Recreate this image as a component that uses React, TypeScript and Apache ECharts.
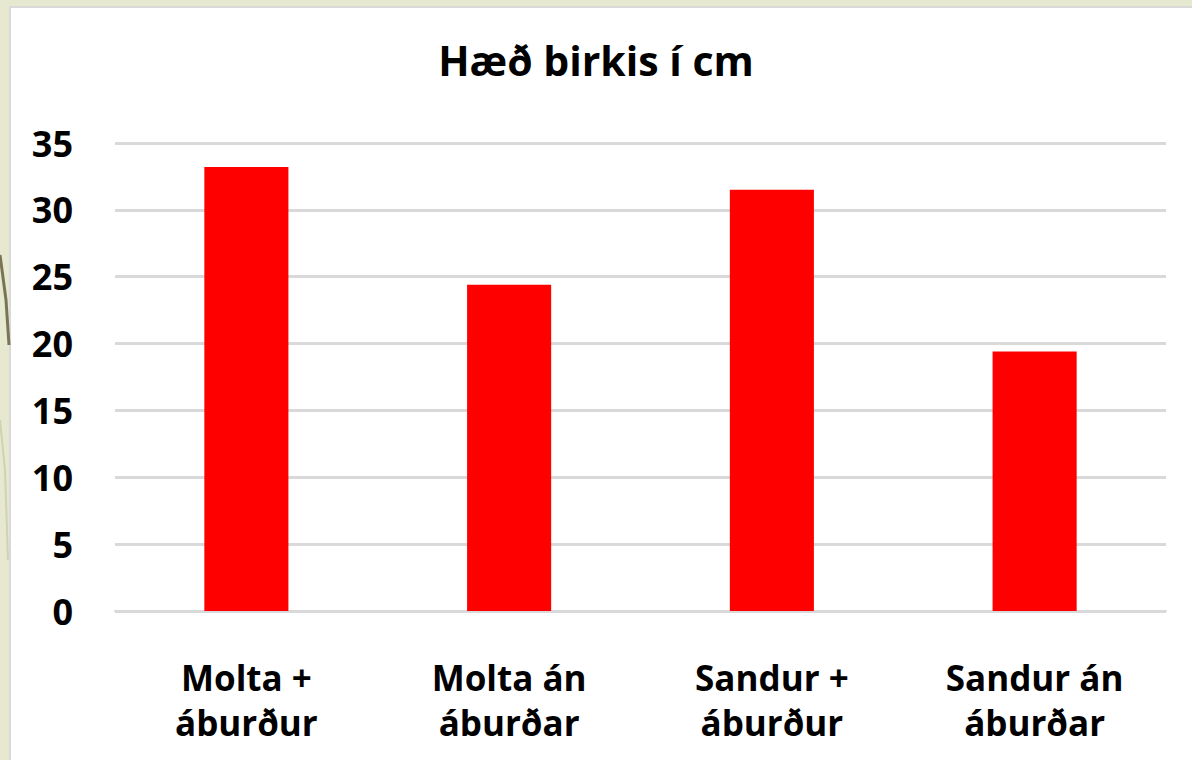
import React, { useEffect, useRef } from "react";
import * as echarts from "echarts";

const categories = ["Molta +\náburður", "Molta án\náburðar", "Sandur +\náburður", "Sandur án\náburðar"];
const heights = [33.2, 24.4, 31.5, 19.4];
const yTicks = [0, 5, 10, 15, 20, 25, 30, 35];
const chartTitle = "Hæð birkis í cm";

export default function App() {
  const ref = useRef<HTMLDivElement>(null);
  useEffect(() => {
    if (!ref.current) return;
    const chart = echarts.init(ref.current, null, { renderer: "svg" });
    const font = "'Open Sans', Lato, sans-serif";
    chart.setOption({
      animation: false,
      backgroundColor: "#e6e9cf",
      graphic: [
        {
          type: "rect",
          z: -10,
          shape: { x: 10, y: 7, width: 1190, height: 760 },
          style: { fill: "#ffffff", stroke: "#d9d9d9", lineWidth: 2 },
        },
        {
          type: "polyline",
          z: -9,
          shape: { points: [[0, 255], [6, 300], [9, 345]] },
          style: { stroke: "#7a7456", lineWidth: 3, fill: "none" },
        },
        {
          type: "polyline",
          z: -9,
          shape: { points: [[0, 420], [5, 470], [8, 560]] },
          style: { stroke: "#cfd3b0", lineWidth: 2, fill: "none" },
        },
      ],
      title: {
        text: chartTitle,
        left: "center",
        top: 34,
        textStyle: { fontFamily: font, fontWeight: "bold", fontSize: 41, color: "#000" },
      },
      grid: { left: 115, right: 26, top: 143, bottom: 149, containLabel: false },
      xAxis: {
        type: "category",
        data: categories,
        axisLine: { show: true, lineStyle: { color: "#d9d9d9", width: 2 } },
        axisTick: { show: false },
        axisLabel: {
          interval: 0,
          margin: 44,
          fontFamily: font,
          fontWeight: "bold",
          fontSize: 35,
          lineHeight: 45,
          color: "#000",
          align: "center",
        },
      },
      yAxis: {
        type: "value",
        min: yTicks[0],
        max: yTicks[yTicks.length - 1],
        interval: 5,
        axisLine: { show: false },
        axisTick: { show: false },
        splitLine: { show: true, lineStyle: { color: "#d9d9d9", width: 3 } },
        axisLabel: {
          margin: 42,
          fontFamily: font,
          fontWeight: "bold",
          fontSize: 36,
          color: "#000",
        },
      },
      series: [
        {
          type: "bar",
          data: heights,
          barWidth: "32%",
          itemStyle: { color: "#ff0000" },
        },
      ],
    });
    return () => chart.dispose();
  }, []);
  return (
    <div
      ref={ref}
      style={{ position: "fixed", left: 0, top: 0, width: 1192, height: 760 }}
    />
  );
}
